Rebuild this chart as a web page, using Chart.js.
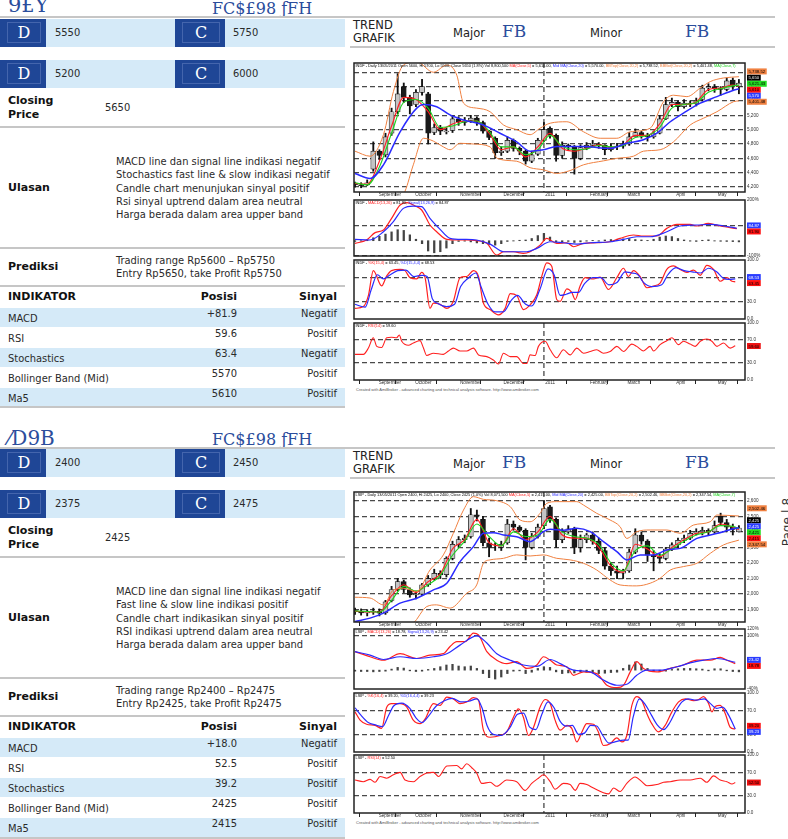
<!DOCTYPE html>
<html><head><meta charset="utf-8">
<script src="https://cdn.jsdelivr.net/npm/chart.js@4/dist/chart.umd.min.js"></script>
<style>
html,body{margin:0;padding:0;background:#fff;}
body{width:788px;height:839px;position:relative;overflow:hidden;font-family:"DejaVu Sans Condensed","DejaVu Sans",sans-serif;font-size:11px;color:#2a2a2a;}
.blk{position:absolute;left:0;width:788px;height:430px;}
.abs{position:absolute;white-space:nowrap;}
.hr{position:absolute;height:2px;background:#c6c6c6;}
.dk{position:absolute;background:#1f4696;height:28px;}
.dk span{position:absolute;left:7px;top:3px;right:5px;bottom:4px;border:1px solid #4465ad;color:#fff;font:16px "DejaVu Serif",serif;text-align:center;line-height:20px;}
.lt{position:absolute;background:#d5eaf8;height:28px;line-height:28px;padding-left:9px;box-sizing:border-box;}
.glyph{position:absolute;color:#2b4d9c;font-family:"DejaVu Serif",serif;white-space:nowrap;}
.b{font-family:"DejaVu Sans",sans-serif;font-weight:bold;color:#111;}
.s11{font-family:"DejaVu Sans",sans-serif;font-size:11.5px;color:#222;}
.row{position:absolute;left:0;width:345px;height:19px;}
.row.alt{background:#d5eaf8;}
.row .l{position:absolute;left:8px;top:4px;}
.row .p{position:absolute;right:108px;top:-1px;}
.row .s{position:absolute;right:8px;top:-1px;}
canvas{position:absolute;}
.foot{position:absolute;left:356px;font:4px "Liberation Sans",sans-serif;color:#555;white-space:nowrap;}
</style></head>
<body>

<div class="blk" style="top:0">
  <div class="glyph" style="left:8px;top:-7px;font-size:21px;">9£Y</div>
  <div class="glyph" style="left:212px;top:-1px;font-size:16px;">FC$£98 ƒFH</div>
  <div class="hr" style="left:0;top:16px;width:775px"></div>
  <div class="dk" style="left:0;top:19px;width:46px"><span>D</span></div>
  <div class="lt" style="left:46px;top:19px;width:129px">5550</div>
  <div class="dk" style="left:175px;top:19px;width:50px"><span>C</span></div>
  <div class="lt" style="left:225px;top:19px;width:120px;padding-left:8px">5750</div>
  <div class="dk" style="left:0;top:60px;width:46px"><span>D</span></div>
  <div class="lt" style="left:46px;top:60px;width:129px">5200</div>
  <div class="dk" style="left:175px;top:60px;width:50px"><span>C</span></div>
  <div class="lt" style="left:225px;top:60px;width:120px;padding-left:8px">6000</div>
  <div class="abs b" style="left:8px;top:94px;line-height:13.6px">Closing<br>Price</div>
  <div class="abs" style="left:105px;top:101px;line-height:13px">5650</div>
  <div class="hr" style="left:0;top:126px;width:345px"></div>
  <div class="abs b" style="left:8px;top:181px;line-height:13px">Ulasan</div>
  <div class="abs" style="left:116px;top:155px;line-height:13.3px">MACD line dan signal line indikasi negatif<br>Stochastics fast line &amp; slow indikasi negatif<br>Candle chart menunjukan sinyal positif<br>Rsi sinyal uptrend dalam area neutral<br>Harga berada dalam area upper band</div>
  <div class="hr" style="left:0;top:247px;width:345px"></div>
  <div class="abs b" style="left:8px;top:260px;line-height:13px">Prediksi</div>
  <div class="abs" style="left:116px;top:254px;line-height:13px">Trading range Rp5600 – Rp5750<br>Entry Rp5650, take Profit Rp5750</div>
  <div class="hr" style="left:0;top:285px;width:345px"></div>
  <div class="abs b" style="left:8px;top:290px;line-height:13px">INDIKATOR</div>
  <div class="abs b" style="right:551px;top:290px;line-height:13px">Posisi</div>
  <div class="abs b" style="right:451px;top:290px;line-height:13px">Sinyal</div>
  <div class="row alt" style="top:308px"><span class="l">MACD</span><span class="p">+81.9</span><span class="s">Negatif</span></div>
  <div class="row" style="top:328px"><span class="l">RSI</span><span class="p">59.6</span><span class="s">Positif</span></div>
  <div class="row alt" style="top:348px"><span class="l">Stochastics</span><span class="p">63.4</span><span class="s">Negatif</span></div>
  <div class="row" style="top:368px"><span class="l">Bollinger Band (Mid)</span><span class="p">5570</span><span class="s">Positif</span></div>
  <div class="row alt" style="top:388px"><span class="l">Ma5</span><span class="p">5610</span><span class="s">Positif</span></div>
  <div class="hr" style="left:0;top:406px;width:345px"></div>

  <div class="abs s11" style="left:353px;top:19px;line-height:13px">TREND<br>GRAFIK</div>
  <div class="abs s11" style="left:453px;top:26px">Major</div>
  <div class="glyph" style="left:502px;top:21px;font-size:17px">FB</div>
  <div class="abs s11" style="left:590px;top:26px">Minor</div>
  <div class="glyph" style="left:685px;top:21px;font-size:17px">FB</div>
  <div class="hr" style="left:350px;top:46px;width:425px"></div>
  <div class="foot" style="top:387px">Created with AmiBroker - advanced charting and technical analysis software. http://www.amibroker.com</div>
</div>

<div class="blk" style="top:430px">
  <div class="glyph" style="left:8px;top:-4px;font-size:20px;">⁄D9B</div>
  <div class="glyph" style="left:212px;top:0px;font-size:16px;">FC$£98 ƒFH</div>
  <div class="hr" style="left:0;top:17px;width:775px"></div>
  <div class="dk" style="left:0;top:19px;width:46px"><span>D</span></div>
  <div class="lt" style="left:46px;top:19px;width:129px">2400</div>
  <div class="dk" style="left:175px;top:19px;width:50px"><span>C</span></div>
  <div class="lt" style="left:225px;top:19px;width:120px;padding-left:8px">2450</div>
  <div class="dk" style="left:0;top:60px;width:46px"><span>D</span></div>
  <div class="lt" style="left:46px;top:60px;width:129px">2375</div>
  <div class="dk" style="left:175px;top:60px;width:50px"><span>C</span></div>
  <div class="lt" style="left:225px;top:60px;width:120px;padding-left:8px">2475</div>
  <div class="abs b" style="left:8px;top:94px;line-height:13.6px">Closing<br>Price</div>
  <div class="abs" style="left:105px;top:101px;line-height:13px">2425</div>
  <div class="hr" style="left:0;top:126px;width:345px"></div>
  <div class="abs b" style="left:8px;top:181px;line-height:13px">Ulasan</div>
  <div class="abs" style="left:116px;top:155px;line-height:13.3px">MACD line dan signal line indikasi negatif<br>Fast line &amp; slow line indikasi positif<br>Candle chart indikasikan sinyal positif<br>RSI indikasi uptrend dalam area neutral<br>Harga berada dalam area upper band</div>
  <div class="hr" style="left:0;top:247px;width:345px"></div>
  <div class="abs b" style="left:8px;top:260px;line-height:13px">Prediksi</div>
  <div class="abs" style="left:116px;top:254px;line-height:13px">Trading range Rp2400 – Rp2475<br>Entry Rp2425, take Profit Rp2475</div>
  <div class="hr" style="left:0;top:285px;width:345px"></div>
  <div class="abs b" style="left:8px;top:290px;line-height:13px">INDIKATOR</div>
  <div class="abs b" style="right:551px;top:290px;line-height:13px">Posisi</div>
  <div class="abs b" style="right:451px;top:290px;line-height:13px">Sinyal</div>
  <div class="row alt" style="top:308px"><span class="l">MACD</span><span class="p">+18.0</span><span class="s">Negatif</span></div>
  <div class="row" style="top:328px"><span class="l">RSI</span><span class="p">52.5</span><span class="s">Positif</span></div>
  <div class="row alt" style="top:348px"><span class="l">Stochastics</span><span class="p">39.2</span><span class="s">Positif</span></div>
  <div class="row" style="top:368px"><span class="l">Bollinger Band (Mid)</span><span class="p">2425</span><span class="s">Positif</span></div>
  <div class="row alt" style="top:388px"><span class="l">Ma5</span><span class="p">2415</span><span class="s">Positif</span></div>
  <div class="hr" style="left:0;top:407px;width:345px"></div>

  <div class="abs s11" style="left:353px;top:20px;line-height:13px">TREND<br>GRAFIK</div>
  <div class="abs s11" style="left:453px;top:27px">Major</div>
  <div class="glyph" style="left:502px;top:22px;font-size:17px">FB</div>
  <div class="abs s11" style="left:590px;top:27px">Minor</div>
  <div class="glyph" style="left:685px;top:22px;font-size:17px">FB</div>
  <div class="hr" style="left:350px;top:47px;width:425px"></div>
  <div class="foot" style="top:390px">Created with AmiBroker - advanced charting and technical analysis software. http://www.amibroker.com</div>
</div>

<div class="abs" style="left:757px;top:514px;width:60px;height:16px;transform:rotate(-90deg);font:12px 'DejaVu Sans',sans-serif;color:#333;text-align:center;line-height:16px">Page | 8</div>

<script>
// ---------- shared axis categories ----------
const MONTH_DAYS = [11, 29, 51, 72.5, 93, 115, 133.5, 157.5, 178];
const MONTH_LABELS = ['September','October','November','December','2011','February','March','April','May'];
const YEAR_DAY = 93;
const CANDLE_STEP = 3;

// ---------- INDF ----------
const indfOpen = [4250,4230,4230,4450,4700,4650,4950,5250, 5600,5450,5350,5520,5500,4960,5030,4970,
  4990,5150,5100,5130,5160,5100,4980,4880, 4680,4700,4850,4740,4700,4560,4660,4850,
  5020,4920,4640,4780,4760,4600,4750,4780, 4800,4780,4720,4760,4770,4800,4900,4960,
  4920,4900,4950,5150,5350,5380,5320,5370, 5360,5420,5580,5600,5580,5560,5690,5600];
const indfHigh = [4270,4260,4300,4830,4720,4950,5300,5780, 5650,5480,5560,5700,5520,5080,5060,5020,
  5200,5180,5170,5200,5180,5120,4990,4900, 4760,4900,4870,4760,4720,4700,4880,5100,
  5040,4940,4830,4800,4780,4790,4820,4850, 4820,4790,4800,4810,4840,4960,5010,4980,
  4950,4980,5200,5450,5440,5400,5420,5400, 5440,5620,5640,5630,5600,5720,5720,5700];
const indfLow = [4200,4190,4220,4420,4580,4620,4920,5220, 5380,5220,5320,5480,4800,4930,4930,4940,
  4960,5060,5060,5100,5060,4950,4860,4600, 4640,4680,4700,4650,4520,4540,4640,4830,
  4880,4560,4600,4720,4380,4580,4720,4760, 4740,4650,4700,4720,4740,4780,4900,4880,
  4840,4880,4940,5140,5320,5260,5300,5320, 5330,5400,5540,5520,5480,5540,5560,5500];
const indfClose = [4230,4220,4260,4700,4640,4900,5250,5500, 5450,5330,5520,5600,4950,5030,4980,4980,
  5150,5110,5120,5160,5100,4980,4890,4680, 4700,4850,4740,4700,4560,4650,4850,5000,
  4920,4640,4780,4760,4600,4750,4780,4800, 4780,4720,4760,4770,4800,4900,4960,4920,
  4900,4950,5150,5350,5380,5320,5370,5360, 5400,5580,5600,5570,5560,5680,5620,5650];
const indfMa5 = [[0,4250],[6,4240],[12,4560],[18,5050],[24,5450],[30,5420],[36,5250],[42,5000],[48,5080],[54,5120],[60,5120],[66,4950],[72,4720],[78,4760],[84,4620],[90,4760],[96,4950],[102,4740],[108,4700],[114,4740],[120,4790],[126,4750],[132,4790],[138,4920],[144,4920],[150,5080],[156,5350],[162,5350],[168,5390],[174,5560],[180,5580],[186,5620],[189,5610]];
const indfMa7 = [[0,4260],[6,4230],[12,4480],[18,4950],[24,5380],[30,5420],[36,5300],[42,5030],[48,5050],[54,5110],[60,5120],[66,4980],[72,4760],[78,4760],[84,4650],[90,4720],[96,4920],[102,4770],[108,4720],[114,4730],[120,4780],[126,4760],[132,4780],[138,4890],[144,4920],[150,5030],[156,5300],[162,5350],[168,5380],[174,5520],[180,5570],[186,5610],[189,5621]];
const indfMa20 = [[0,4390],[7.4,4320],[14,4510],[22.2,4970],[30.4,5300],[33.7,5350],[40.2,5320],[46.8,5205],[53.4,5135],[63.2,5065],[71.4,4950],[79.6,4830],[86.2,4700],[92.8,4720],[99.3,4765],[112.5,4765],[125.6,4740],[133.8,4810],[142,4860],[148.6,4950],[155.2,5110],[161.7,5230],[170,5370],[178.2,5460],[186.4,5550],[189,5570]];
const indfBbTop = [[0,4700],[7.4,4630],[14,4930],[18.9,5530],[23.8,5900],[30.4,5945],[38.6,5800],[45.2,5900],[50.1,5760],[53.4,5370],[59.9,5300],[66.5,5250],[73.1,5065],[79.6,5000],[86.2,4930],[91.1,5020],[96.1,5090],[104.3,5110],[112.5,4970],[120.7,4880],[128.9,4880],[135.5,4970],[145.3,5020],[151.9,5390],[156.8,5480],[163.4,5460],[170,5580],[174.9,5670],[181.4,5720],[189,5738]];
const indfBbBot = [[20,3950],[24.6,4140],[28.7,4510],[33.7,4880],[38.6,4840],[43.5,4760],[46.8,4720],[51.7,4810],[58.3,4800],[66.5,4760],[70,4600],[79.6,4560],[86.2,4470],[92.8,4440],[99.3,4390],[105.9,4430],[112.5,4510],[122.3,4565],[128.9,4600],[137.1,4630],[142,4700],[150.2,4720],[156.8,4830],[165,5065],[171.6,5160],[178.2,5250],[186.4,5390],[189,5401]];
const indfMacd = [[0,-18],[5.7,5],[9.9,55],[14,73],[18,152],[22.2,243],[25.5,259],[29.6,236],[32.8,209],[36.9,107],[40.2,61],[45.2,9],[50.1,5],[55,5],[59.9,0],[64.9,-18],[69.8,-98],[73.1,-75],[78,-75],[82.9,-86],[86.2,-75],[91.1,-30],[94.4,16],[99.3,-18],[104.3,-14],[107.6,-41],[112.5,-18],[119,-14],[125.6,-7],[130.5,16],[137.1,39],[142,32],[148.6,32],[153.5,84],[158.5,111],[165,111],[168.3,100],[174,118],[179.8,100],[188,82]];
const indfSignal = [[0,9],[7.4,5],[14,61],[18.9,130],[23.8,220],[28.7,236],[32.8,232],[36.9,152],[41.9,77],[46.8,16],[53.4,9],[59.9,5],[66.5,-23],[73.1,-75],[79.6,-75],[84.6,-75],[89.5,-52],[96.1,-7],[102.6,-14],[109.2,-23],[115.8,-14],[125.6,-7],[132.2,9],[138.7,27],[145.3,27],[153.5,61],[160.1,100],[168.3,107],[174.9,111],[181.4,100],[188,85]];
const indfHist = [-5,-3,5,20,30,45,60,75, 70,40,10,-20,-70,-82,-75,-50,
  -20,-5,-3,-8,-15,-20,-25,-30, -20,-5,-2,3,5,15,35,50,
  25,-10,-10,-5,-12,-8,-3,2, -3,5,8,10,12,15,8,5,
  2,10,25,32,28,15,5,-3, -5,3,6,-2,-4,-5,-6,-8];
const indfStochK = [[0,18],[4.1,21],[6.6,40],[9,82],[13.1,56],[15.6,73],[18,82],[22.2,84],[24.6,82],[27.1,70],[30.4,68],[32.8,79],[34.5,70],[36.9,18],[38.6,27],[41.9,25],[45.2,18],[48.4,30],[51.7,70],[55,72],[58.3,82],[60.8,72],[63.2,27],[66.5,16],[70.6,7],[73.9,18],[76.4,43],[79.6,40],[82.9,16],[86.2,24],[89.5,41],[92,73],[94.4,95],[96.9,89],[99.3,33],[101,30],[104.3,51],[106.7,45],[108.4,33],[110.8,56],[113.3,70],[117.4,68],[120.7,71],[124.8,50],[128.9,70],[132.2,86],[134.6,72],[137.1,82],[140.4,72],[143.7,53],[147,56],[150.2,61],[153.5,84],[156.8,90],[160.1,84],[163.4,79],[166.7,83],[170,74],[173.2,91],[176.5,84],[179.8,64],[183.1,70],[185.6,64],[187.2,63]];
const indfStochD = [[0,25],[5,20],[8,50],[11,75],[14,68],[17,74],[21,82],[25,83],[29,72],[33,74],[35.5,72],[38,35],[41,26],[45,21],[49,25],[52,55],[56,70],[59.5,78],[62,55],[65.5,25],[69,12],[73,12],[77,32],[80,40],[84,25],[87,22],[91,50],[95,85],[98,75],[101,40],[104,42],[107,45],[110,45],[113,60],[117,70],[121,70],[125,58],[129,62],[133,80],[136,78],[139,76],[142,62],[146,55],[151,58],[154,75],[158,87],[162,82],[166,80],[170,78],[174,86],[178,80],[181,70],[184,67],[187.2,68]];
const indfRsi = [[0,45],[4.1,45],[6.6,56],[9,74],[10.7,59],[13.1,57],[15.6,74],[18,75],[20.5,74],[21.8,79],[23,68],[26.3,61],[28.7,65],[32,69],[33.7,56],[35.3,43],[38.6,47],[43.5,45],[46,51],[48.4,56],[51.7,51],[55,51],[58.3,56],[60.8,44],[64.9,41],[68.1,35],[70.6,28],[73.1,47],[76.4,41],[79.6,41],[82.9,29],[84.6,29],[86.2,44],[88.7,43],[90.3,59],[93.6,68],[96.1,53],[99.3,39],[102.6,53],[105.9,44],[109.2,56],[112.5,47],[115.8,50],[119,53],[122.3,47],[125.6,50],[128.9,59],[132.2,50],[136.3,63],[138.7,59],[142,51],[145.3,59],[147,51],[150.2,62],[153.5,69],[156,74],[159.3,62],[161.7,68],[165,63],[167.5,59],[170,68],[173.2,72],[175.7,68],[178.2,59],[181.4,65],[184.7,56],[187.2,60]];

// ---------- LSIP ----------
const lsipOpen = [1895,1890,1880,1885,1890,1880,1960,2030, 2080,2030,1995,2000,2060,2100,2134,2125,
  2230,2320,2350,2370,2510,2480,2330,2300, 2300,2330,2450,2430,2410,2300,2370,2440,
  2560,2480,2350,2400,2420,2300,2350,2380, 2340,2280,2180,2150,2134,2150,2270,2380,
  2340,2250,2240,2230,2290,2316,2345,2360, 2390,2400,2410,2400,2500,2460,2430,2400];
const lsipHigh = [1910,1905,1900,1910,1905,1960,2050,2100, 2090,2040,2020,2070,2120,2160,2150,2240,
  2340,2370,2380,2550,2540,2500,2360,2330, 2340,2480,2470,2440,2420,2390,2450,2600,
  2570,2490,2420,2440,2430,2380,2390,2400, 2360,2300,2200,2180,2160,2290,2420,2400,
  2350,2280,2260,2300,2330,2360,2380,2410, 2420,2430,2420,2470,2520,2480,2450,2440];
const lsipLow = [1870,1865,1860,1870,1860,1870,1950,2020, 2010,1980,1970,1990,2050,2090,2100,2110,
  2220,2300,2330,2360,2470,2310,2240,2280, 2280,2320,2410,2400,2220,2290,2360,2420,
  2460,2300,2330,2390,2260,2270,2330,2320, 2260,2160,2120,2100,2100,2140,2260,2320,
  2210,2150,2200,2220,2280,2300,2330,2350, 2380,2380,2380,2390,2440,2400,2380,2400];
const lsipClose = [1888,1880,1885,1890,1878,1950,2030,2080, 2030,1995,2000,2060,2100,2134,2123,2230,
  2320,2350,2360,2510,2500,2330,2300,2300, 2320,2450,2430,2410,2300,2370,2430,2550,
  2480,2350,2400,2420,2300,2350,2380,2340, 2280,2180,2150,2134,2150,2270,2380,2340,
  2250,2240,2230,2290,2316,2345,2360,2390, 2400,2410,2400,2440,2460,2430,2415,2425];
const lsipMa5 = [[0,1890],[6,1885],[12,1885],[18,1990],[24,2060],[30,2010],[36,2080],[42,2130],[48,2290],[54,2350],[60,2480],[66,2330],[72,2310],[78,2420],[84,2350],[90,2400],[96,2500],[102,2380],[108,2360],[114,2360],[120,2300],[126,2180],[132,2140],[138,2320],[144,2290],[150,2240],[156,2300],[162,2350],[168,2390],[174,2400],[180,2450],[186,2430],[189,2415]];
const lsipMa7 = [[0,1892],[6,1888],[12,1884],[18,1960],[24,2050],[30,2020],[36,2060],[42,2120],[48,2250],[54,2340],[60,2450],[66,2370],[72,2310],[78,2400],[84,2370],[90,2380],[96,2480],[102,2400],[108,2370],[114,2360],[120,2320],[126,2200],[132,2150],[138,2280],[144,2310],[150,2250],[156,2290],[162,2340],[168,2380],[174,2400],[180,2440],[186,2435],[189,2421]];
const lsipMa20 = [[0,1824],[7.4,1846],[14,1878],[22.2,1942],[30.4,1974],[38.6,2027],[45.2,2070],[51.7,2209],[58.3,2305],[63.2,2391],[68.1,2395],[73.1,2380],[79.6,2369],[86.2,2337],[92.8,2401],[96.1,2416],[102.6,2410],[109.2,2423],[115.8,2401],[122.3,2337],[128.9,2273],[133.8,2220],[140.4,2252],[147,2252],[153.5,2284],[160.1,2294],[168.3,2358],[174.9,2380],[181.4,2401],[187.2,2423],[189,2425]];
const lsipBbTop = [[0,1980],[7.4,1975],[14,1931],[18.9,2027],[23.8,2038],[30.4,2017],[36.9,2155],[43.5,2252],[48.4,2391],[53.4,2540],[58.3,2626],[63.2,2609],[69.8,2600],[76.4,2562],[81.3,2476],[86.2,2465],[91.1,2519],[94.4,2583],[99.3,2594],[109.2,2594],[112.5,2572],[119,2519],[125.6,2476],[130.5,2433],[133.8,2358],[138.7,2401],[145.3,2412],[153.5,2412],[160.1,2391],[166.7,2444],[174.9,2465],[178.2,2508],[189,2502]];
const lsipBbBot = [[20,1780],[28.7,1814],[35.3,1920],[40.2,1931],[46.8,1910],[55,2006],[59.9,2059],[63.2,2198],[66.5,2220],[73.1,2230],[79.6,2252],[86.2,2245],[92.8,2252],[99.3,2230],[105.9,2220],[112.5,2198],[119,2155],[125.6,2091],[130.5,2059],[138.7,2053],[145.3,2070],[150.2,2102],[155.2,2155],[161.7,2177],[168.3,2198],[174.9,2262],[181.4,2316],[189,2347]];
const lsipMacd = [[0,54],[7.4,39],[14,29],[22.2,48],[30.4,34],[36.9,44],[43.5,48],[46.8,69],[50.1,83],[54.2,83],[58.3,108],[60.8,103],[64.9,54],[69.8,29],[74.7,19],[79.6,25],[84.6,5],[89.5,15],[92.8,39],[96.1,29],[99.3,15],[104.3,10],[107.6,-15],[112.5,-5],[119,-10],[124,-44],[128.9,-51],[132.2,-44],[135.5,-5],[138.7,25],[142,5],[148.6,-5],[155.2,5],[161.7,15],[168.3,29],[174.9,29],[179.8,37],[183.1,29],[187.2,19]];
const lsipSignal = [[0,54],[7.4,44],[14,31],[22.2,39],[30.4,34],[38.6,39],[45.2,48],[51.7,73],[60,100],[64.9,79],[69.8,48],[76.4,29],[82.9,15],[89.5,11],[96.1,31],[101,19],[107.6,0],[115.8,-5],[122.3,-29],[128.9,-44],[133.8,-41],[138.7,-15],[143.7,0],[150.2,0],[158.5,10],[165,21],[171.6,29],[178.2,34],[187.2,23]];
const lsipHist = [-3,-4,-4,-5,-4,-3,3,8, 6,-2,-4,-3,2,5,10,15,
  17,12,10,12,5,-10,-22,-26, -20,-10,-3,-2,-10,-6,5,10,
  8,-5,-10,-8,-8,-5,-6,-8, -10,-9,-7,-6,5,15,24,18,
  5,-4,-5,-3,2,4,5,5, 4,3,-2,4,4,-2,-4,-5];
const lsipStochK = [[0,68],[2.5,54],[5.7,47],[9.9,45],[13.1,40],[15.6,76],[18,82],[22.2,82],[25.5,76],[28.7,54],[32,48],[34.5,56],[38.6,82],[41.9,79],[45.2,93],[48.4,90],[51.7,82],[55,85],[58.3,92],[60.8,88],[63.2,37],[66.5,25],[71.4,28],[74.7,34],[78,59],[80.4,73],[82.9,59],[85.4,28],[87.9,42],[91.1,76],[93.6,89],[96.1,82],[98.5,54],[101,37],[104.3,45],[106.7,40],[109.2,17],[111.7,34],[114.1,48],[117.4,47],[119.8,34],[122.3,11],[125.6,14],[128.9,24],[131.4,17],[133.8,28],[136.3,79],[138.7,94],[141.2,87],[143.7,65],[146.1,48],[149.4,34],[152.7,45],[156,68],[159.3,85],[162.6,90],[166.7,87],[169.2,89],[171.6,94],[174.1,82],[175.7,68],[177.3,77],[179.8,79],[182.3,65],[184.7,42],[187.2,39]];
const lsipStochD = [[0,75],[3,62],[6.5,50],[10,46],[13.5,43],[16.5,62],[19,78],[23,83],[27,74],[30,58],[33,50],[36,60],[40,78],[44,87],[48,91],[52,85],[56,86],[60,90],[62.5,75],[65,45],[68,30],[72,28],[76,40],[80,64],[83,66],[86,42],[89,38],[92,64],[95,85],[98,75],[101,52],[104,44],[107,45],[110,30],[113,32],[116,45],[119,44],[122,28],[125,15],[129,18],[132,20],[134.5,20],[137,60],[140,90],[143,80],[146,62],[149,45],[152,38],[155,50],[158,70],[161,85],[164,90],[168,88],[172,90],[175,82],[178,74],[181,76],[184,62],[187.2,39]];
const lsipRsi = [[0,57],[4.1,54],[7.4,58],[9.9,53],[12.3,63],[15.6,60],[18.9,66],[22.2,70],[24.6,57],[28.7,54],[32,63],[35.3,69],[38.6,70],[41.1,63],[45.2,81],[50.1,82],[52.5,76],[55,85],[57.5,78],[59.9,69],[62.4,51],[66.5,53],[69.8,46],[74.7,57],[79.6,54],[83.7,39],[87,51],[90.3,60],[92.8,66],[96.1,54],[98.5,41],[102.6,51],[105.9,49],[108.4,39],[110.8,51],[114.1,49],[117.4,43],[122.3,35],[124.8,33],[127.3,43],[130.5,37],[133.8,51],[137.9,62],[141.2,54],[143.7,47],[148.6,49],[151.9,53],[155.2,54],[160.1,57],[165,57],[170,60],[173.2,53],[176.5,64],[179.8,57],[183.1,54],[185.6,50],[187.2,52.5]];

// ---------- tick label sets ----------
const indfPriceTicks = [4200,4400,4600,4800,5000,5200,5400,5600,5800];
const lsipPriceTicks = [1900,2000,2100,2200,2300,2400,2500,2600];
const oscTicks = [0,30,70,100];

// ---------- styling ----------
const RED='#ff2020', BLUE='#2a2aff', GREEN='#1fd21f', ORANGE='#f08040', BLK='#000';
const FONT='"Liberation Sans", Arial, sans-serif';

function line(pts, color, w){
  return {type:'line', data: pts.map(p=>({x:p[0], y:p[1]})), borderColor:color, borderWidth:w||1,
    pointRadius:0, fill:false, cubicInterpolationMode:'monotone', order:1};
}
function candles(o,h,l,c){
  const days = o.map((_,i)=>i*CANDLE_STEP);
  return [
    {type:'bar', data: days.map((d,i)=>({x:d, y:[l[i],h[i]]})), backgroundColor:'#111', barThickness:1.2, grouped:false, order:6},
    {type:'bar', data: days.map((d,i)=>({x:d, y:[o[i],c[i]]})), backgroundColor: days.map((d,i)=> c[i]>=o[i] ? '#c4c4c4' : '#1a1a1a'),
      borderColor:'#111', borderWidth:0.7, borderSkipped:false, barThickness:5, grouped:false, order:5}
  ];
}
function hist(vals){
  return {type:'bar', data: vals.map((v,i)=>({x:i*CANDLE_STEP, y:v})), backgroundColor:'#444', barThickness:1.6, grouped:false, order:5};
}

function extras(opts){
  return {
    id:'amiExtras',
    beforeDatasetsDraw(chart){
      if(!opts.yearLine) return;
      const {ctx, chartArea:a, scales} = chart;
      const px = scales.x.getPixelForValue(YEAR_DAY);
      ctx.save(); ctx.strokeStyle='#4a4a4a'; ctx.lineWidth=1.3; ctx.setLineDash([5,3]);
      ctx.beginPath(); ctx.moveTo(px,a.top); ctx.lineTo(px,a.bottom); ctx.stroke(); ctx.restore();
    },
    afterDraw(chart){
      const {ctx, chartArea:a, scales} = chart;
      const y = scales.y;
      ctx.save();
      ctx.strokeStyle='#222'; ctx.lineWidth=1.5;
      ctx.strokeRect(a.left, a.top, a.right-a.left, a.bottom-a.top);
      if(opts.title){
        ctx.font='3.9px '+FONT; ctx.textBaseline='top';
        let x=a.left+1.5;
        for(const [t,col] of opts.title){ ctx.fillStyle=col; ctx.fillText(t,x,a.top+1.3); x+=ctx.measureText(t).width; }
      }
      if(opts.tags){
        const th=6; ctx.font='4.3px '+FONT;
        const ps = opts.tags.map(t=>y.getPixelForValue(t.v));
        const ys=[];
        ps.forEach((p,i)=>ys.push(i===0?p:Math.max(p, ys[i-1]+th)));
        const shift = ys.reduce((s,v,i)=>s+v-ps[i],0)/ys.length;
        opts.tags.forEach((t,i)=>{
          const cy = ys[i]-shift;
          const w = ctx.measureText(t.t).width+3;
          ctx.fillStyle=t.bg; ctx.fillRect(a.right+2, cy-th/2, w, th);
          ctx.fillStyle=t.fg; ctx.textBaseline='middle'; ctx.fillText(t.t, a.right+3.5, cy+0.3);
        });
      }
      ctx.restore();
    }
  };
}

function panel(p){
  const padTop=4, padBottom=p.months?0:4, xh=p.months?9:0;
  const h = padTop + p.frameH + padBottom + xh;
  const c = document.createElement('canvas');
  c.width=438; c.height=h;
  c.style.left='350px'; c.style.top=(p.top-padTop)+'px'; c.style.width='438px'; c.style.height=h+'px';
  document.body.appendChild(c);
  new Chart(c, {
    type:'bar',
    data:{datasets:p.datasets},
    options:{
      responsive:false, animation:false, devicePixelRatio:1, events:[],
      layout:{padding:{left:4,right:0,top:padTop,bottom:padBottom}},
      plugins:{legend:{display:false}, tooltip:{enabled:false}},
      scales:{
        x:{type:'linear', min:-0.5, max:192, offset:false, display:!!p.months,
          afterBuildTicks:s=>{ s.ticks = MONTH_DAYS.map(v=>({value:v})); },
          afterFit:s=>{ s.height=xh; s.paddingLeft=0; s.paddingRight=0; },
          ticks:{autoSkip:false, maxRotation:0, minRotation:0, align:'start', padding:-4, color:'#333',
            font:{size:4.6, family:FONT}, callback:(v,i)=>' '+MONTH_LABELS[i]},
          grid:{drawOnChartArea:false, drawTicks:true, tickLength:4, color:'#222', lineWidth:1},
          border:{display:false}},
        y:{type:'linear', position:'right', min:p.yMin, max:p.yMax,
          afterBuildTicks:s=>{ s.ticks = p.ticks.map(v=>({value:v})); },
          afterFit:s=>{ s.width=43; s.paddingTop=0; s.paddingBottom=0; },
          ticks:{autoSkip:false, padding:2, color:'#333', font:{size:4.6, family:FONT}, callback:v=>p.label(v)},
          grid:{drawTicks:false, lineWidth:1.3, color:ctx=>(ctx.tick && p.dashed.includes(ctx.tick.value)) ? '#4a4a4a' : 'rgba(0,0,0,0)'},
          border:{display:false, dash:[5,3]}}
      }
    },
    plugins:[extras(p)]
  });
}

const fmtK = v => v.toLocaleString('en-US');
const fmt1 = v => v.toFixed(1);

// ===== INDF panels =====
panel({top:63, frameH:129, months:true, yMin:4131, yMax:5929, ticks:indfPriceTicks, dashed:indfPriceTicks, label:fmtK, yearLine:true,
  datasets:[...candles(indfOpen,indfHigh,indfLow,indfClose),
    line(indfBbTop,ORANGE,1), line(indfBbBot,ORANGE,1), line(indfMa20,BLUE,1.5), line(indfMa7,GREEN,1.1), line(indfMa5,RED,1.1)],
  title:[['INDF - Daily 13/05/2011 Open 5600, Hi 5700, Lo 5500, Close 5650 (1.8%) Vol 8,800,500 ',BLK],['MA(Close,5)',RED],[' = 5,610.00, ',BLK],['Mid MA(Close,20)',BLUE],[' = 5,570.00, ',BLK],['BBTop(Close,20,2)',ORANGE],[' = 5,738.52, ',BLK],['BBBot(Close,20,2)',ORANGE],[' = 5,401.48, ',BLK],['MA(Close,7)',GREEN]],
  tags:[{v:5738.52,t:'5,738.52',bg:ORANGE,fg:'#000'},{v:5650,t:'5,650',bg:'#000',fg:'#fff'},{v:5621.43,t:'5,621.43',bg:'#22dd22',fg:'#000'},{v:5610,t:'5,610',bg:'#ff1010',fg:'#000'},{v:5570,t:'5,570',bg:'#2a3cff',fg:'#fff'},{v:5401.48,t:'5,401.48',bg:ORANGE,fg:'#000'}]
});
panel({top:200, frameH:56, months:false, yMin:-104, yMax:277, ticks:[-100,100,277], dashed:[-100,100],
  label:v=> v===277 ? '200%' : (v===-100 ? '-100%' : ''),
  datasets:[hist(indfHist), line(indfSignal,BLUE,1.2), line(indfMacd,RED,1.2)],
  title:[['INDF - ',BLK],['MACD(13,26)',RED],[' = 81.90, ',BLK],['Signal(13,26,9)',BLUE],[' = 84.87',BLK]],
  tags:[{v:84.87,t:'84.87',bg:'#2a3cff',fg:'#fff'},{v:81.9,t:'81.90',bg:'#ff1010',fg:'#000'}]
});
panel({top:260, frameH:59, months:false, yMin:0, yMax:100, ticks:oscTicks, dashed:[30,70], label:fmt1,
  datasets:[line(indfStochD,BLUE,1.2), line(indfStochK,RED,1.2)],
  title:[['INDF - ',BLK],['%K(15,4)',RED],[' = 63.45, ',BLK],['%D(15,4,4)',BLUE],[' = 68.53',BLK]],
  tags:[{v:68.53,t:'68.53',bg:'#2a3cff',fg:'#fff'},{v:63.45,t:'63.45',bg:'#ff1010',fg:'#000'}]
});
panel({top:323, frameH:57, months:true, yMin:0, yMax:100, ticks:oscTicks, dashed:[30,70], label:fmt1, yearLine:true,
  datasets:[line(indfRsi,RED,1.1)],
  title:[['INDF - ',BLK],['RSI(14)',RED],[' = 59.60',BLK]],
  tags:[{v:59.6,t:'59.60',bg:'#ee1010',fg:'#000'}]
});

// ===== LSIP panels =====
panel({top:492, frameH:130, months:true, yMin:1821, yMax:2656, ticks:lsipPriceTicks, dashed:lsipPriceTicks, label:fmtK, yearLine:true,
  datasets:[...candles(lsipOpen,lsipHigh,lsipLow,lsipClose),
    line(lsipBbTop,ORANGE,1), line(lsipBbBot,ORANGE,1), line(lsipMa20,BLUE,1.5), line(lsipMa7,GREEN,1.1), line(lsipMa5,RED,1.1)],
  title:[['LSIP - Daily 13/05/2011 Open 2400, Hi 2425, Lo 2400, Close 2425 (1.0%) Vol 8,071,500 ',BLK],['MA(Close,5)',RED],[' = 2,415.00, ',BLK],['Mid MA(Close,20)',BLUE],[' = 2,425.00, ',BLK],['BBTop(Close,20,2)',ORANGE],[' = 2,502.46, ',BLK],['BBBot(Close,20,2)',ORANGE],[' = 2,347.54, ',BLK],['MA(Close,7)',GREEN]],
  tags:[{v:2502.46,t:'2,502.46',bg:ORANGE,fg:'#000'},{v:2425,t:'2,425',bg:'#000',fg:'#fff'},{v:2425,t:'2,425',bg:'#2a3cff',fg:'#fff'},{v:2421,t:'2,421',bg:'#22dd22',fg:'#000'},{v:2415,t:'2,415',bg:'#ff1010',fg:'#000'},{v:2347.54,t:'2,347.54',bg:ORANGE,fg:'#000'}]
});
panel({top:629, frameH:60, months:false, yMin:-55, yMax:120, ticks:[-55,100,120], dashed:[100],
  label:v=> v===120 ? '120%' : (v===100 ? '100%' : '-40%'),
  datasets:[hist(lsipHist), line(lsipSignal,BLUE,1.2), line(lsipMacd,RED,1.2)],
  title:[['LSIP - ',BLK],['MACD(13,26)',RED],[' = 18.78, ',BLK],['Signal(13,26,9)',BLUE],[' = 23.42',BLK]],
  tags:[{v:23.42,t:'23.42',bg:'#2a3cff',fg:'#fff'},{v:18.78,t:'18.78',bg:'#ff1010',fg:'#000'}]
});
panel({top:693, frameH:59, months:false, yMin:0, yMax:100, ticks:oscTicks, dashed:[30,70], label:fmt1,
  datasets:[line(lsipStochD,BLUE,1.2), line(lsipStochK,RED,1.2)],
  title:[['LSIP - ',BLK],['%K(16,4)',RED],[' = 39.20, ',BLK],['%D(16,4,4)',BLUE],[' = 39.23',BLK]],
  tags:[{v:39.2,t:'39.20',bg:'#ff1010',fg:'#000'},{v:39.23,t:'39.23',bg:'#2a3cff',fg:'#fff'}]
});
panel({top:755, frameH:58, months:true, yMin:0, yMax:100, ticks:oscTicks, dashed:[30,70], label:fmt1, yearLine:true,
  datasets:[line(lsipRsi,RED,1.1)],
  title:[['LSIP - ',BLK],['RSI(14)',RED],[' = 52.50',BLK]],
  tags:[{v:52.5,t:'52.50',bg:'#ee1010',fg:'#000'}]
});
</script>
</body></html>
